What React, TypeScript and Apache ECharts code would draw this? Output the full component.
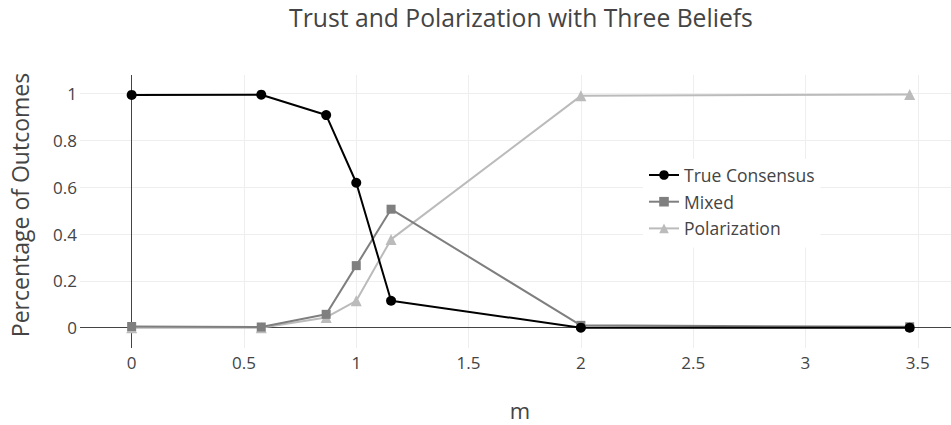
import React, { useEffect, useRef } from "react";
import * as echarts from "echarts";

const mValues = [0, 0.577, 0.866, 1, 1.155, 2, 3.464];
const trueConsensus = [0.994, 0.995, 0.908, 0.619, 0.115, 0.0, 0.0];
const mixed = [0.005, 0.003, 0.057, 0.265, 0.506, 0.01, 0.004];
const polarization = [0.0, 0.0, 0.044, 0.115, 0.377, 0.99, 0.996];
const xTicks = [0, 0.5, 1, 1.5, 2, 2.5, 3, 3.5];
const yTicks = [0, 0.2, 0.4, 0.6, 0.8, 1];
const seriesNames = ["True Consensus", "Mixed", "Polarization"];
const seriesColors = ["#000000", "#7f7f7f", "#bbbbbb"];
const seriesSymbols = ["circle", "rect", "triangle"];
const seriesSizes = [10, 9, 11];

const FONT = "'Open Sans', 'Noto Sans', sans-serif";
const TXT = "#444444";

export default function App() {
  const ref = useRef<HTMLDivElement>(null);
  useEffect(() => {
    if (!ref.current) return;
    const chart = echarts.init(ref.current, undefined, { renderer: "svg" });
    const datasets = [trueConsensus, mixed, polarization];
    const series: any[] = datasets.map((vals, i) => ({
      name: seriesNames[i],
      type: "line",
      data: mValues.map((x, j) => [x, vals[j]]),
      symbol: seriesSymbols[i],
      symbolSize: seriesSizes[i],
      showAllSymbol: true,
      lineStyle: { color: seriesColors[i], width: 2 },
      itemStyle: { color: seriesColors[i], borderWidth: 0 },
      z: 10 - i,
      emphasis: { disabled: true },
    }));
    series[0].markLine = {
      silent: true,
      symbol: "none",
      label: { show: false },
      lineStyle: { color: "#444444", width: 1, type: "solid" },
      z: 1,
      data: [{ xAxis: 0 }, { yAxis: 0 }],
    };
    chart.setOption({
      animation: false,
      backgroundColor: "#ffffff",
      grid: { left: 80, right: 0, top: 75, bottom: 77, containLabel: false },
      xAxis: {
        type: "value",
        min: -0.23,
        max: 3.648,
        axisLine: { show: false },
        axisTick: { show: false, customValues: xTicks },
        axisLabel: {
          customValues: xTicks,
          color: TXT,
          fontFamily: FONT,
          fontSize: 17,
          margin: 6,
          formatter: (v: number) => String(v),
        },
        splitLine: { show: true, lineStyle: { color: "#eeeeee", width: 1 } },
      },
      yAxis: {
        type: "value",
        min: -0.0867,
        max: 1.079,
        axisLine: { show: false },
        axisTick: { show: false, customValues: yTicks },
        axisLabel: {
          customValues: yTicks,
          color: TXT,
          fontFamily: FONT,
          fontSize: 17,
          margin: 3,
          formatter: (v: number) => String(v),
        },
        splitLine: { show: true, lineStyle: { color: "#eeeeee", width: 1 } },
      },
      legend: {
        orient: "vertical",
        left: 643,
        top: 159,
        padding: [7, 6, 10, 5],
        backgroundColor: "#ffffff",
        itemWidth: 30,
        itemHeight: 12,
        itemGap: 8.7,
        textStyle: { color: TXT, fontFamily: FONT, fontSize: 17.5, lineHeight: 16 },
        data: seriesNames,
      },
      graphic: [
        {
          type: "text",
          x: 521,
          y: 17,
          style: {
            text: "Trust and Polarization with Three Beliefs",
            fill: TXT,
            font: `24.7px ${FONT}`,
            textAlign: "center",
            textVerticalAlign: "middle",
          },
        },
        {
          type: "text",
          x: 520,
          y: 421,
          style: {
            text: "m",
            fill: TXT,
            font: `22px ${FONT}`,
            textAlign: "center",
            textVerticalAlign: "bottom",
          },
        },
        {
          type: "text",
          x: 20,
          y: 205,
          rotation: Math.PI / 2,
          style: {
            text: "Percentage of Outcomes",
            fill: TXT,
            font: `23px ${FONT}`,
            textAlign: "center",
            textVerticalAlign: "middle",
          },
        },
      ],
      series,
    });
    return () => chart.dispose();
  }, []);
  return (
    <div
      ref={ref}
      style={{ position: "fixed", left: 0, top: 0, width: 951, height: 425 }}
    />
  );
}
